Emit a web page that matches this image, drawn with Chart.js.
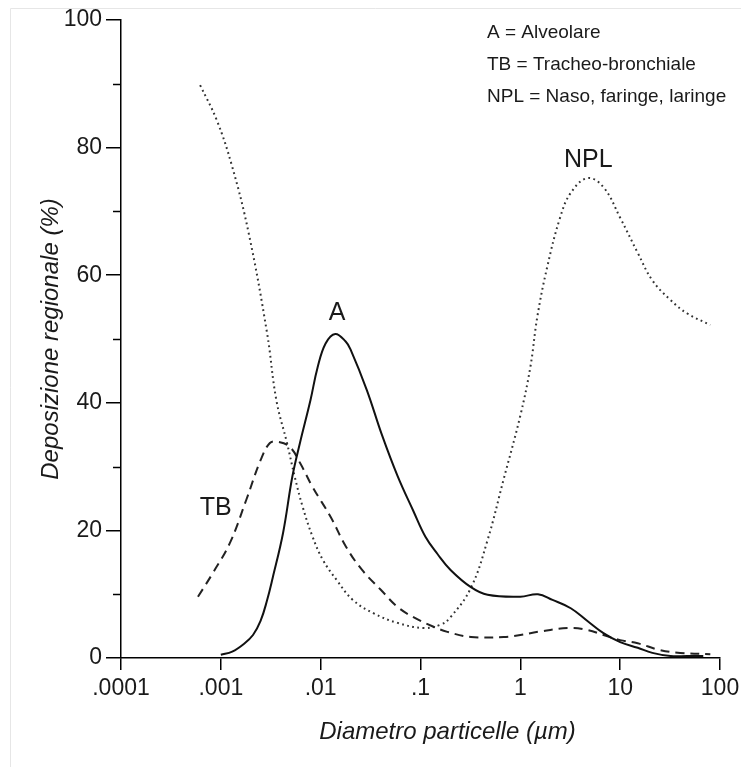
<!DOCTYPE html>
<html>
<head>
<meta charset="utf-8">
<script src="https://cdn.jsdelivr.net/npm/chart.js@4/dist/chart.umd.min.js"></script>
<style>
  html, body { margin: 0; padding: 0; background: #fff; }
  #wrap { width: 741px; height: 767px; }
</style>
</head>
<body>
<div id="wrap"><canvas id="depChart" width="741" height="767"></canvas></div>
<script>
// diameters in µm, deposition in %
const xA   = [0.001, 0.0013, 0.0017, 0.0021, 0.0025, 0.0029, 0.0033, 0.0042, 0.0052, 0.0062, 0.0079, 0.0093, 0.0112, 0.0140, 0.0178, 0.020, 0.029, 0.041, 0.059, 0.085, 0.112, 0.148, 0.20, 0.32, 0.47, 1.0, 1.5, 2.1, 3.2, 4.7, 6.8, 10, 15, 21, 32, 47, 68];
const yA   = [0.5, 1.0, 2.2, 3.6, 5.8, 9.0, 12.5, 19.6, 28.4, 33.7, 40.4, 45.5, 49.3, 50.8, 49.6, 48.3, 42.0, 35.0, 28.5, 23.0, 19.0, 16.3, 13.8, 11.1, 9.9, 9.6, 10.0, 9.1, 7.8, 5.8, 3.9, 2.5, 1.6, 0.8, 0.3, 0.3, 0.3];

const xTB  = [0.00059, 0.00083, 0.00123, 0.0018, 0.0025, 0.0031, 0.0037, 0.0049, 0.0062, 0.0083, 0.0126, 0.018, 0.026, 0.040, 0.059, 0.085, 0.135, 0.186, 0.32, 0.68, 1.0, 1.5, 3.0, 4.7, 6.8, 10, 15, 25, 40, 80];
const yTB  = [9.6, 13.3, 18.0, 24.8, 31.0, 33.7, 33.9, 33.1, 30.6, 26.8, 22.1, 17.4, 13.8, 10.7, 8.0, 6.4, 4.9, 4.1, 3.3, 3.3, 3.6, 4.1, 4.7, 4.4, 3.6, 2.8, 2.3, 1.25, 0.8, 0.6];

const xNPL = [0.00062, 0.00091, 0.0013, 0.0019, 0.0029, 0.0036, 0.0046, 0.0055, 0.0066, 0.0083, 0.0105, 0.0145, 0.021, 0.034, 0.059, 0.107, 0.158, 0.20, 0.32, 0.47, 0.68, 1.0, 1.26, 1.48, 1.86, 2.5, 3.2, 4.7, 6.8, 10, 15, 21, 32, 47, 80];
const yNPL = [89.8, 84.3, 77.0, 66.6, 51.0, 40.4, 33.7, 28.4, 23.7, 19.0, 15.4, 12.2, 9.1, 7.0, 5.5, 4.7, 5.2, 6.4, 11.0, 18.5, 28.0, 38.0, 45.6, 53.5, 61.3, 69.0, 72.9, 75.2, 73.8, 69.0, 63.5, 59.2, 56.1, 54.0, 52.2];

const xTicks = [0.0001, 0.001, 0.01, 0.1, 1, 10, 100];
const yMinor = [10, 30, 50, 70, 90];

const curveLabels = [
    { text: "A", x: 0.0146, y: 54 },
    { text: "TB", x: 0.00089, y: 23.5 },
    { text: "NPL", x: 4.8, y: 78 }
];
const keyLines = [
    "A = Alveolare",
    "TB = Tracheo-bronchiale",
    "NPL = Naso, faringe, laringe"
];

const ink = "#1a1a1a";
const fontFam = "'Liberation Sans', Arial, Helvetica, sans-serif";

function toPoints(xs, ys) {
    return xs.map((x, i) => ({ x: x, y: ys[i] }));
}

const extras = {
    id: "extras",
    beforeDraw(chart) {
        const c = chart.ctx;
        c.save();
        c.strokeStyle = "#e6e6e6";
        c.lineWidth = 1;
        c.beginPath();
        c.moveTo(10.5, 767);
        c.lineTo(10.5, 8.5);
        c.lineTo(741, 8.5);
        c.stroke();
        c.restore();
    },
    afterDraw(chart) {
        const c = chart.ctx;
        const xs = chart.scales.x;
        const ys = chart.scales.y;
        const area = chart.chartArea;
        c.save();

        // short minor ticks on the y axis
        c.strokeStyle = "#000";
        c.lineWidth = 1.5;
        yMinor.forEach(v => {
            const py = Math.round(ys.getPixelForValue(v)) + 0.5;
            c.beginPath();
            c.moveTo(area.left - 8, py);
            c.lineTo(area.left, py);
            c.stroke();
        });

        c.fillStyle = ink;
        c.textAlign = "center";
        c.textBaseline = "middle";
        c.font = "25px " + fontFam;
        curveLabels.forEach(l => {
            c.fillText(l.text, xs.getPixelForValue(l.x), ys.getPixelForValue(l.y));
        });

        c.textAlign = "left";
        c.font = "19px " + fontFam;
        keyLines.forEach((t, i) => {
            c.fillText(t, 487, area.top + 13 + i * 32);
        });

        // axis titles
        c.textAlign = "center";
        c.font = "italic 24px " + fontFam;
        c.fillText("Diametro particelle (\u00b5m)", (area.left + area.right) / 2 + 27, 732);
        c.translate(51, (area.top + area.bottom) / 2);
        c.rotate(-Math.PI / 2);
        c.fillText("Deposizione regionale (%)", 0, 0);
        c.restore();
    }
};

const ctx = document.getElementById("depChart").getContext("2d");

new Chart(ctx, {
    type: "line",
    data: {
        datasets: [
            {
                label: "A",
                data: toPoints(xA, yA),
                borderColor: "#111",
                borderWidth: 2,
                tension: 0.4
            },
            {
                label: "TB",
                data: toPoints(xTB, yTB),
                borderColor: "#222",
                borderWidth: 2,
                borderDash: [9, 6],
                tension: 0.4
            },
            {
                label: "NPL",
                data: toPoints(xNPL, yNPL),
                borderColor: "#333",
                borderWidth: 2,
                borderDash: [1.8, 3.4],
                tension: 0.4
            }
        ]
    },
    options: {
        responsive: false,
        animation: false,
        parsing: false,
        elements: { point: { radius: 0 } },
        layout: { padding: { top: 20, right: 21, left: 0, bottom: 0 } },
        plugins: {
            legend: { display: false },
            tooltip: { enabled: false }
        },
        scales: {
            x: {
                type: "logarithmic",
                min: 0.0001,
                max: 100,
                afterBuildTicks: scale => {
                    scale.ticks = xTicks.map(v => ({ value: v }));
                },
                afterFit: scale => {
                    scale.height = 109;
                    scale.paddingLeft = 0;
                    scale.paddingRight = 0;
                },
                ticks: {
                    color: ink,
                    font: { size: 23, family: fontFam },
                    padding: 5,
                    maxRotation: 0,
                    autoSkip: false,
                    callback: v => (v < 1 ? String(v).replace("0.", ".") : String(v))
                },
                grid: {
                    drawOnChartArea: false,
                    drawTicks: true,
                    tickLength: 12,
                    color: "#000",
                    lineWidth: 1.5
                },
                border: { display: true, color: "#000", width: 1.5 }
            },
            y: {
                min: 0,
                max: 100,
                afterFit: scale => { scale.width = 121; },
                ticks: {
                    stepSize: 20,
                    color: ink,
                    font: { size: 23, family: fontFam },
                    padding: 4
                },
                grid: {
                    drawOnChartArea: false,
                    drawTicks: true,
                    tickLength: 15,
                    color: "#000",
                    lineWidth: 1.5
                },
                border: { display: true, color: "#000", width: 1.5 }
            }
        }
    },
    plugins: [extras]
});
</script>
</body>
</html>
